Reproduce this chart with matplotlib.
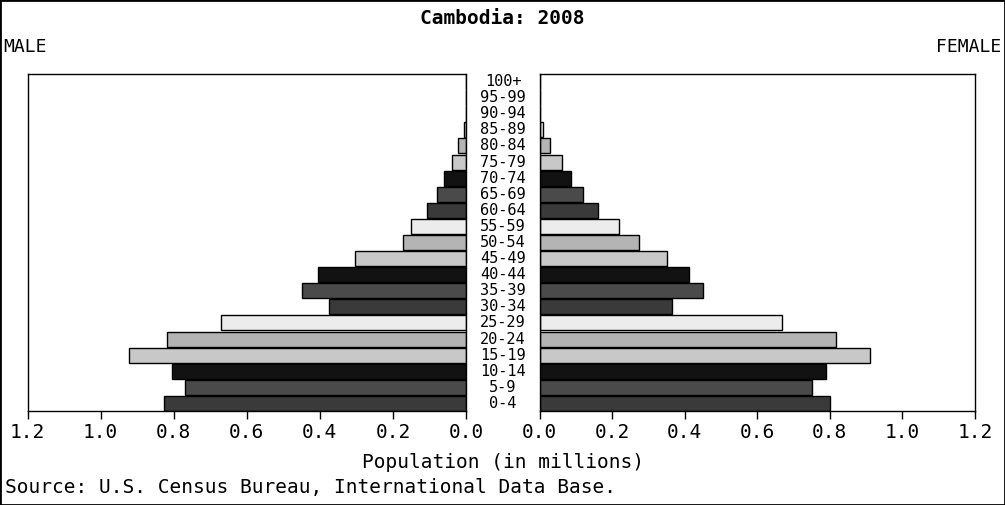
import matplotlib
matplotlib.use("Agg")
import matplotlib.pyplot as plt
from matplotlib.patches import Rectangle
from matplotlib.transforms import blended_transform_factory

# ---- data ----
age_groups = ["0-4", "5-9", "10-14", "15-19", "20-24", "25-29", "30-34", "35-39",
              "40-44", "45-49", "50-54", "55-59", "60-64", "65-69", "70-74", "75-79",
              "80-84", "85-89", "90-94", "95-99", "100+"]
male = [0.827, 0.770, 0.804, 0.923, 0.818, 0.670, 0.376, 0.448, 0.404, 0.305,
        0.172, 0.150, 0.107, 0.079, 0.060, 0.038, 0.022, 0.005, 0.001, 0.0003, 0.0]
female = [0.801, 0.751, 0.789, 0.911, 0.817, 0.668, 0.366, 0.451, 0.413, 0.352,
          0.275, 0.220, 0.160, 0.121, 0.088, 0.061, 0.028, 0.010, 0.002, 0.0005, 0.0]
tick_values = [0.0, 0.2, 0.4, 0.6, 0.8, 1.0, 1.2]
tick_labels = ["0.0", "0.2", "0.4", "0.6", "0.8", "1.0", "1.2"]
title = "Cambodia: 2008"
xlabel = "Population (in millions)"
source = "Source: U.S. Census Bureau, International Data Base."

palette = ["#3a3a3a", "#4a4a4a", "#121212", "#c8c8c8", "#b4b4b4", "#ececec"]
colors = [palette[i % len(palette)] for i in range(len(age_groups))]

W, H = 1005, 505
FONT = "DejaVu Sans Mono"
plt.rcParams['font.family'] = [FONT]

fig = plt.figure(figsize=(W / 100, H / 100), dpi=100)
fig.patch.set_facecolor("white")

top_px, bot_px = 74, 411
axL = fig.add_axes([27.5 / W, 1 - bot_px / H, (466 - 27.5) / W, (bot_px - top_px) / H])
axR = fig.add_axes([539.5 / W, 1 - bot_px / H, (975 - 539.5) / W, (bot_px - top_px) / H])

ypos = list(range(len(age_groups)))
axL.barh(ypos, male, height=0.93, color=colors, edgecolor="black", linewidth=1)
axR.barh(ypos, female, height=0.93, color=colors, edgecolor="black", linewidth=1)

axL.set_xlim(1.2, 0)
axR.set_xlim(0, 1.2)
for ax in (axL, axR):
    ax.set_ylim(-0.47, len(age_groups) - 1 + 0.47)
    ax.set_yticks([])
    ax.set_xticks(tick_values)
    ax.set_xticklabels(tick_labels)
    ax.tick_params(axis="x", direction="out", length=6, width=1, labelsize=14, pad=3)
    for s in ax.spines.values():
        s.set_linewidth(1)
        s.set_color("black")

trans = blended_transform_factory(fig.transFigure, axL.transData)
for i, lab in enumerate(age_groups):
    axL.text(503 / W, i, lab, transform=trans, ha="center", va="center",
             fontsize=11, clip_on=False)

fig.text(502 / W, 1 - 18 / H, title, ha="center", va="center", fontsize=14, fontweight="bold")
fig.text(3 / W, 1 - 47 / H, "MALE", ha="left", va="center", fontsize=13)
fig.text(1001 / W, 1 - 47 / H, "FEMALE", ha="right", va="center", fontsize=13)
fig.text(503 / W, 1 - 463 / H, xlabel, ha="center", va="center", fontsize=14)
fig.text(5 / W, 1 - 487 / H, source, ha="left", va="center", fontsize=14)

fig.patches.append(Rectangle((0, 0), 1, 1, transform=fig.transFigure, fill=False,
                             edgecolor="black", linewidth=2))

fig.savefig("out.png", dpi=100)
